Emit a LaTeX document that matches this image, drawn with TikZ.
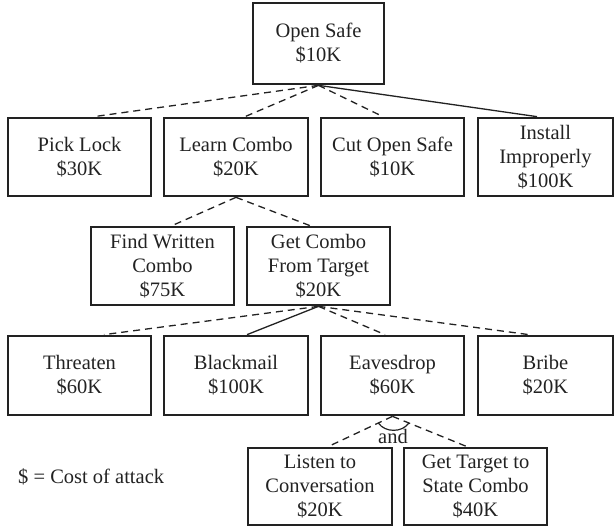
\documentclass[tikz,border=0pt]{standalone}
\usepackage{fontspec}
\setmainfont{Liberation Serif}
\newfontfamily\boxfont{Liberation Serif}
\usetikzlibrary{calc}
\definecolor{ink}{HTML}{222222}
\tikzset{
  box/.style={draw=ink, line width=2.7pt, rectangle, align=center, text=ink,
    inner sep=2pt, font=\boxfont\fontsize{20.5pt}{24pt}\selectfont},
  conn/.style={draw=ink, line width=1.3pt},
  dconn/.style={conn, dash pattern=on 7pt off 5pt},
  lbl/.style={text=ink, inner sep=0pt, font=\boxfont\fontsize{20.5pt}{24pt}\selectfont}
}
\begin{document}
\begin{tikzpicture}[x=1pt,y=1pt]
\useasboundingbox (0,0) rectangle (615,526);
% row 1
\node[box, minimum width=131pt, minimum height=81pt] (open) at (318.5,482.5) {Open Safe\\\$10K};
% row 2
\node[box, minimum width=143pt, minimum height=78pt] (pick) at (79.5,369) {Pick Lock\\\$30K};
\node[box, minimum width=144pt, minimum height=78pt] (learn) at (236,369) {Learn Combo\\\$20K};
\node[box, minimum width=143pt, minimum height=78pt] (cut) at (392.5,369) {Cut Open Safe\\\$10K};
\node[box, minimum width=135pt, minimum height=78pt] (install) at (545.5,369) {Install\\Improperly\\\$100K};
% row 3
\node[box, minimum width=143pt, minimum height=78pt] (find) at (162.5,260) {Find Written\\Combo\\\$75K};
\node[box, minimum width=143pt, minimum height=78pt] (getcombo) at (318.5,260) {Get Combo\\From Target\\\$20K};
% row 4
\node[box, minimum width=143pt, minimum height=79pt] (threaten) at (79.5,150.5) {Threaten\\\$60K};
\node[box, minimum width=144pt, minimum height=79pt] (blackmail) at (236,150.5) {Blackmail\\\$100K};
\node[box, minimum width=143pt, minimum height=79pt] (eaves) at (392.5,150.5) {Eavesdrop\\\$60K};
\node[box, minimum width=135pt, minimum height=79pt] (bribe) at (545.5,150.5) {Bribe\\\$20K};
% row 5
\node[box, minimum width=144pt, minimum height=77pt] (listen) at (320,39.5) {Listen to\\Conversation\\\$20K};
\node[box, minimum width=143pt, minimum height=77pt] (gettarget) at (475.5,39.5) {Get Target to\\State Combo\\\$40K};
% connectors
\draw[dconn] (open.south) -- ([xshift=14.5pt]pick.north);
\draw[dconn] (open.south) -- ([xshift=9pt]learn.north);
\draw[dconn] (open.south) -- ([xshift=-9.5pt]cut.north);
\draw[conn] (open.south) -- ([xshift=-8.5pt]install.north);
\draw[dconn] (learn.south) -- ([xshift=9.5pt]find.north);
\draw[dconn] (learn.south) -- ([xshift=-8.5pt]getcombo.north);
\draw[dconn] (getcombo.south) -- ([xshift=24.5pt]threaten.north);
\draw[conn] (getcombo.south) -- ([xshift=11pt]blackmail.north);
\draw[dconn] (getcombo.south) -- ([xshift=-7.5pt]eaves.north);
\draw[dconn] (getcombo.south) -- ([xshift=-16.5pt]bribe.north);
\coordinate (lt) at ([xshift=8pt]listen.north);
\coordinate (rt) at ([xshift=-8.5pt]gettarget.north);
\draw[dconn] (eaves.south) -- (lt);
\draw[dconn] (eaves.south) -- (rt);
\draw[conn, line width=1.2pt] ($(eaves.south)!0.22!(lt)$) to[bend right=55] ($(eaves.south)!0.22!(rt)$);
\node[lbl] (andlbl) at (393,90) {and};
% legend
\node[lbl, anchor=west] (legend) at (18,49) {\$ = Cost of attack};
\end{tikzpicture}
\end{document}
